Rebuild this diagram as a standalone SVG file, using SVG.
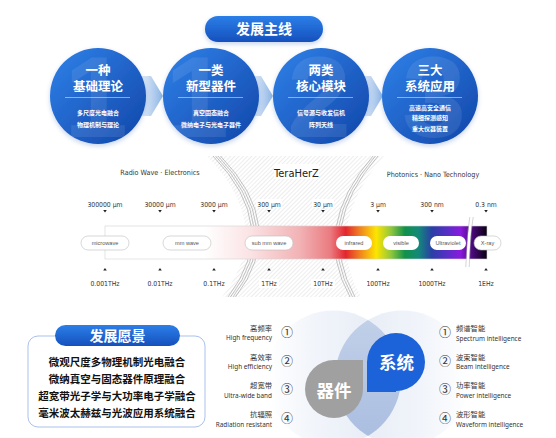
<svg xmlns="http://www.w3.org/2000/svg" width="556" height="438" viewBox="0 0 556 438">
<defs>
<style>
.cn{font-family:"Noto Sans CJK SC","Noto Sans",sans-serif}
.hd{font-family:"Noto Sans CJK SC",sans-serif;font-weight:bold;fill:#fff;text-anchor:middle}
.sm{font-family:"Noto Sans CJK SC",sans-serif;font-weight:bold;fill:#fff;text-anchor:middle;font-size:6px}
.wm{font-family:"Liberation Sans",sans-serif;font-weight:bold;fill:#fff;fill-opacity:0.09;text-anchor:middle;font-size:115px}
.cd{font-family:"DejaVu Sans Condensed","DejaVu Sans",sans-serif;font-stretch:condensed;fill:#333;text-anchor:middle;font-size:6.8px}
.pl{fill:#fff;stroke:#bdbdbd;stroke-width:0.6}
.pt{font-family:"Liberation Sans",Arial,sans-serif;fill:#555;text-anchor:middle;font-size:5.6px}
.tri{fill:#222}
.arc{fill:none;stroke:#8a8a8a;stroke-width:0.5}
.vl{font-family:"Noto Sans CJK SC",sans-serif;font-weight:bold;fill:#111;text-anchor:middle;font-size:10.5px}
.lc{font-family:"Noto Sans CJK SC",sans-serif;fill:#333;font-size:7.3px}
.le{font-family:"Noto Sans","Open Sans",sans-serif;fill:#333;font-size:6.4px}
.num{font-family:"Noto Sans CJK SC",sans-serif;fill:#333;font-size:12px;text-anchor:middle}
</style>
<linearGradient id="gCirc" x1="0" y1="0" x2="1" y2="1">
<stop offset="0" stop-color="#2f82ea"/>
<stop offset="1" stop-color="#1245a8"/>
</linearGradient>
<linearGradient id="gPill" x1="0" y1="0" x2="0" y2="1">
<stop offset="0" stop-color="#2c7fe8"/>
<stop offset="1" stop-color="#1550bd"/>
</linearGradient>
<linearGradient id="gArrow" x1="0" y1="0" x2="1" y2="0">
<stop offset="0" stop-color="#ffffff"/>
<stop offset="1" stop-color="#8db5e6"/>
</linearGradient>
<linearGradient id="gBar" gradientUnits="userSpaceOnUse" x1="105" y1="0" x2="487" y2="0">
<stop offset="0" stop-color="#ffffff"/>
<stop offset="0.26" stop-color="#ffffff"/>
<stop offset="0.38" stop-color="#fbe3e4"/>
<stop offset="0.51" stop-color="#f2b2b5"/>
<stop offset="0.59" stop-color="#ea7b80"/>
<stop offset="0.63" stop-color="#e3262e"/>
<stop offset="0.667" stop-color="#f0821f"/>
<stop offset="0.71" stop-color="#fde500"/>
<stop offset="0.75" stop-color="#8cc63f"/>
<stop offset="0.785" stop-color="#12914a"/>
<stop offset="0.82" stop-color="#138a7a"/>
<stop offset="0.856" stop-color="#2a3ea6"/>
<stop offset="0.898" stop-color="#5b2ec8"/>
<stop offset="0.93" stop-color="#8a19dd"/>
<stop offset="0.966" stop-color="#40086e"/>
<stop offset="1" stop-color="#0a0010"/>
</linearGradient>
<linearGradient id="gVL" gradientUnits="userSpaceOnUse" x1="268" y1="0" x2="400" y2="0">
<stop offset="0" stop-color="#eef2f9" stop-opacity="0"/>
<stop offset="0.35" stop-color="#eef2f9" stop-opacity="0.8"/>
<stop offset="1" stop-color="#e2e9f4"/>
</linearGradient>
<linearGradient id="gVR" gradientUnits="userSpaceOnUse" x1="336" y1="0" x2="470" y2="0">
<stop offset="0" stop-color="#e2e9f4"/>
<stop offset="0.65" stop-color="#eef2f9" stop-opacity="0.8"/>
<stop offset="1" stop-color="#eef2f9" stop-opacity="0"/>
</linearGradient>
<linearGradient id="gLens" x1="0" y1="0" x2="0" y2="1">
<stop offset="0" stop-color="#c3d1e9"/>
<stop offset="1" stop-color="#a9bde0"/>
</linearGradient>
<pattern id="hatch" patternUnits="userSpaceOnUse" width="3" height="3" patternTransform="rotate(45)">
<line x1="0" y1="0" x2="0" y2="3" stroke="#b8b8b8" stroke-width="0.5"/>
</pattern>
<clipPath id="cHatch">
<path d="M207 156 Q276 227 222 297 L361 297 Q322 227 384 156 Z"/>
</clipPath>
<clipPath id="cLeftVenn">
<circle cx="333.5" cy="378" r="67.5"/>
</clipPath>
<filter id="sh" x="-20%" y="-20%" width="140%" height="150%">
<feDropShadow dx="0" dy="2" stdDeviation="2" flood-color="#1a4fa8" flood-opacity="0.25"/>
</filter>
<path id="dn" d="M-1.8 0 L1.8 0 L0 2.6 Z"/>
<path id="up" d="M-1.8 2.6 L1.8 2.6 L0 0 Z"/>
</defs>

<rect width="556" height="438" fill="#ffffff"/>

<!-- Title pill -->
<g id="title-main">
<rect x="205" y="16" width="118" height="26" rx="13" fill="url(#gPill)" filter="url(#sh)"/>
<text x="264" y="34" class="hd" font-size="14">发展主线</text>
</g>

<!-- Connectors (chevron arrows between stage circles) -->
<g id="connectors">
<polygon points="134,76 151,76 163,96 151,116 134,116" fill="url(#gArrow)"/>
<polygon points="246,76 261,76 273,96 261,116 246,116" fill="url(#gArrow)"/>
<polygon points="356,76 371,76 383,96 371,116 356,116" fill="url(#gArrow)"/>
</g>

<g id="stage1">
<circle cx="98" cy="96" r="48" fill="url(#gCirc)" filter="url(#sh)"/>
<text x="96" y="137" class="wm">1</text>
<text x="98" y="75" class="hd" font-size="12.5">一种</text>
<text x="98" y="91" class="hd" font-size="12.5">基础理论</text>
<line x1="65" y1="97.5" x2="130" y2="97.5" stroke="#fff" stroke-opacity="0.6" stroke-width="0.8"/>
<text x="98" y="114.5" class="sm">多尺度光电融合</text>
<text x="98" y="126.5" class="sm">物理机制与理论</text>
</g>

<g id="stage2">
<circle cx="211" cy="96" r="48" fill="url(#gCirc)" filter="url(#sh)"/>
<text x="197" y="137" class="wm">1</text>
<text x="211" y="75" class="hd" font-size="12.5">一类</text>
<text x="211" y="91" class="hd" font-size="12.5">新型器件</text>
<line x1="178" y1="97.5" x2="243" y2="97.5" stroke="#fff" stroke-opacity="0.6" stroke-width="0.8"/>
<text x="211" y="114.5" class="sm">真空固态融合</text>
<text x="211" y="126.5" class="sm">微纳电子与光电子器件</text>
</g>

<g id="stage3">
<circle cx="321" cy="96" r="48" fill="url(#gCirc)" filter="url(#sh)"/>
<text x="319" y="137" class="wm">2</text>
<text x="321" y="75" class="hd" font-size="12.5">两类</text>
<text x="321" y="91" class="hd" font-size="12.5">核心模块</text>
<line x1="288" y1="97.5" x2="353" y2="97.5" stroke="#fff" stroke-opacity="0.6" stroke-width="0.8"/>
<text x="321" y="114.5" class="sm">信号源与收发信机</text>
<text x="321" y="126.5" class="sm">阵列天线</text>
</g>

<g id="stage4">
<circle cx="430" cy="96" r="48" fill="url(#gCirc)" filter="url(#sh)"/>
<text x="434" y="137" class="wm">3</text>
<text x="430" y="75" class="hd" font-size="12.5">三大</text>
<text x="430" y="91" class="hd" font-size="12.5">系统应用</text>
<line x1="397" y1="97.5" x2="462" y2="97.5" stroke="#fff" stroke-opacity="0.6" stroke-width="0.8"/>
<text x="430" y="109.5" class="sm">高速高安全通信</text>
<text x="430" y="120" class="sm">精细探测感知</text>
<text x="430" y="130.5" class="sm">重大仪器装置</text>
</g>

<!-- Spectrum -->
<g id="spectrum">
<rect x="200" y="156" width="190" height="141" fill="url(#hatch)" clip-path="url(#cHatch)"/>
<g>
<path class="arc" d="M213 156 Q282 227 228 297"/>
<path class="arc" d="M215.5 156 Q284.5 227 230.5 297"/>
<path class="arc" d="M218 156 Q287 227 233 297"/>
<path class="arc" d="M220.5 156 Q289.5 227 235.5 297"/>
<path class="arc" d="M378 156 Q316 227 355 297"/>
<path class="arc" d="M375.5 156 Q313.5 227 352.5 297"/>
<path class="arc" d="M373 156 Q311 227 350 297"/>
</g>
<text x="160" y="175" class="cd" style="font-size:7.2px">Radio Wave · Electronics</text>
<rect x="274" y="164" width="45" height="15" fill="#fff"/>
<text x="296.5" y="176.5" class="cd" style="font-size:11px;fill:#222">TeraHerZ</text>
<text x="433" y="176.5" class="cd" style="font-size:7.2px">Photonics · Nano Technology</text>

<rect x="256" y="199" width="26" height="9" fill="#fff"/>
<rect x="312" y="199" width="22" height="9" fill="#fff"/>
<rect x="259" y="279" width="20" height="9" fill="#fff"/>
<rect x="311" y="279" width="24" height="9" fill="#fff"/>

<g>
<text x="105" y="207" class="cd">300000 μm</text>
<text x="160" y="207" class="cd">30000 μm</text>
<text x="214" y="207" class="cd">3000 μm</text>
<text x="269" y="207" class="cd">300 μm</text>
<text x="323" y="207" class="cd">30 μm</text>
<text x="378" y="207" class="cd">3 μm</text>
<text x="432" y="207" class="cd">300 nm</text>
<text x="486" y="207" class="cd">0.3 nm</text>
</g>
<g class="tri">
<use href="#dn" x="105" y="210"/><use href="#dn" x="160" y="210"/><use href="#dn" x="214" y="210"/><use href="#dn" x="269" y="210"/>
<use href="#dn" x="323" y="210"/><use href="#dn" x="378" y="210"/><use href="#dn" x="432" y="210"/><use href="#dn" x="486" y="210"/>
<use href="#up" x="105" y="268"/><use href="#up" x="160" y="268"/><use href="#up" x="214" y="268"/><use href="#up" x="269" y="268"/>
<use href="#up" x="323" y="268"/><use href="#up" x="378" y="268"/><use href="#up" x="432" y="268"/><use href="#up" x="486" y="268"/>
</g>

<rect x="105" y="226" width="382" height="33" fill="url(#gBar)" stroke="#d2d2d2" stroke-width="0.6"/>

<path d="M471.5 217 C468.5 235 468.5 250 467.5 267" fill="none" stroke="#fff" stroke-width="3"/>
<path d="M469.8 217 C466.8 235 466.8 250 465.8 267" fill="none" stroke="#aaa" stroke-width="0.5"/>
<path d="M473.2 217 C470.2 235 470.2 250 469.2 267" fill="none" stroke="#aaa" stroke-width="0.5"/>

<g>
<rect x="81" y="236" width="48" height="14" rx="7" class="pl"/>
<text x="105" y="245" class="pt">microwave</text>
<rect x="163" y="236" width="48" height="14" rx="7" class="pl"/>
<text x="187" y="245" class="pt">mm wave</text>
<rect x="245" y="236" width="48" height="14" rx="7" class="pl"/>
<text x="269" y="245" class="pt">sub mm wave</text>
<rect x="336" y="236" width="36" height="14" rx="7" fill="#fff"/>
<text x="354" y="245" class="pt">infrared</text>
<rect x="383" y="236" width="36" height="14" rx="7" fill="#fff"/>
<text x="401" y="245" class="pt">visible</text>
<rect x="430" y="236" width="36" height="14" rx="7" fill="#fff"/>
<text x="448" y="245" class="pt">Ultraviolet</text>
<rect x="474" y="236" width="27" height="14" rx="7" class="pl"/>
<text x="487.5" y="245" class="pt">X-ray</text>
</g>

<g>
<text x="105" y="285.5" class="cd">0.001THz</text>
<text x="160" y="285.5" class="cd">0.01THz</text>
<text x="214" y="285.5" class="cd">0.1THz</text>
<text x="269" y="285.5" class="cd">1THz</text>
<text x="323" y="285.5" class="cd">10THz</text>
<text x="378" y="285.5" class="cd">100THz</text>
<text x="432" y="285.5" class="cd">1000THz</text>
<text x="486" y="285.5" class="cd">1EHz</text>
</g>
</g>

<!-- Vision box -->
<g id="vision">
<rect x="28" y="336" width="177" height="91" rx="10" fill="#fff" stroke="#a9c1ec" stroke-width="1"/>
<rect x="55" y="325" width="125" height="21" rx="10.5" fill="url(#gPill)"/>
<text x="117.5" y="341" class="hd" font-size="14">发展愿景</text>
<text x="117" y="366" class="vl">微观尺度多物理机制光电融合</text>
<text x="117" y="383" class="vl">微纳真空与固态器件原理融合</text>
<text x="117" y="400" class="vl">超宽带光子学与大功率电子学融合</text>
<text x="117" y="416.5" class="vl">毫米波太赫兹与光波应用系统融合</text>
</g>

<!-- Venn -->
<g id="venn-bg">
<circle cx="333.5" cy="378" r="67.5" fill="url(#gVL)"/>
<circle cx="402.5" cy="378" r="67.5" fill="url(#gVR)"/>
<circle cx="402.5" cy="378" r="67.5" fill="url(#gLens)" clip-path="url(#cLeftVenn)"/>
</g>

<g id="node-device">
<path d="M334 360 L363 360 L363 389 A29 29 0 1 1 334 360 Z" fill="#a0a0a0"/>
<text x="334" y="397" class="hd" font-size="17.5">器件</text>
</g>

<g id="node-system">
<path d="M367 392 L367 362 A29 29 0 1 1 396 391 L396 392 Z" fill="#1c62d8"/>
<text x="396.5" y="369" class="hd" font-size="17.5">系统</text>
</g>

<g id="device-features">
<g text-anchor="end">
<text x="272" y="330.5" class="lc">高频率</text>
<text x="272" y="339.5" class="le">High frequency</text>
<text x="272" y="359.5" class="lc">高效率</text>
<text x="272" y="369" class="le">High efficiency</text>
<text x="272" y="388" class="lc">超宽带</text>
<text x="272" y="397.5" class="le">Ultra-wide band</text>
<text x="272" y="417" class="lc">抗辐照</text>
<text x="272" y="427" class="le">Radiation resistant</text>
</g>
<text x="287" y="337" class="num">①</text>
<text x="287" y="365.5" class="num">②</text>
<text x="287" y="394" class="num">③</text>
<text x="287" y="422.5" class="num">④</text>
</g>

<g id="system-features">
<text x="445" y="337" class="num">①</text>
<text x="445" y="365.5" class="num">②</text>
<text x="445" y="394" class="num">③</text>
<text x="445" y="422.5" class="num">④</text>
<text x="456" y="330.5" class="lc">频谱智能</text>
<text x="456" y="340.5" class="le">Spectrum intelligence</text>
<text x="456" y="359.5" class="lc">波束智能</text>
<text x="456" y="369" class="le">Beam intelligence</text>
<text x="456" y="388" class="lc">功率智能</text>
<text x="456" y="397.5" class="le">Power intelligence</text>
<text x="456" y="417" class="lc">波形智能</text>
<text x="456" y="427" class="le">Waveform intelligence</text>
</g>
</svg>
